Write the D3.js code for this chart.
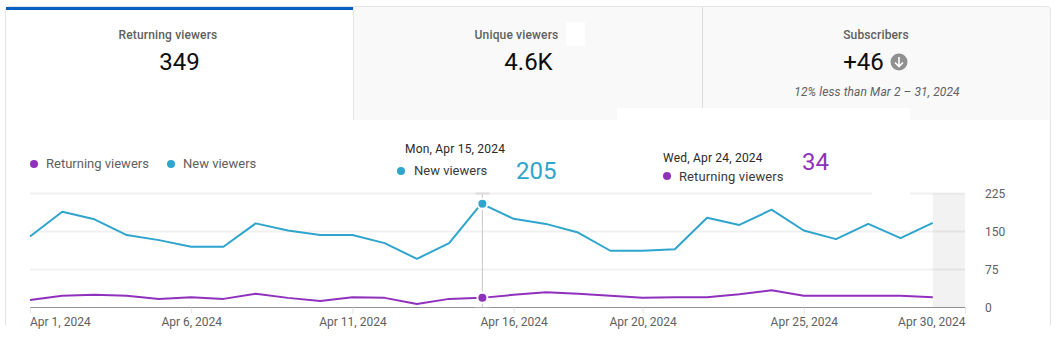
<!DOCTYPE html>
<html>
<head>
<meta charset="utf-8">
<script src="https://cdnjs.cloudflare.com/ajax/libs/d3/7.8.5/d3.min.js"></script>
<style>
    html, body { margin: 0; padding: 0; background: #fff; }
    svg { display: block; font-family: Roboto, sans-serif; }
</style>
</head>
<body>
<svg id="chart" width="1058" height="358"></svg>
<script>
const days = d3.range(1, 31);
const newViewers = [140, 189, 174, 143, 133, 120, 120, 166, 152, 143, 143, 127, 96, 127, 205,
    175, 165, 148, 112, 112, 115, 177, 163, 193, 152, 135, 165, 137, 167];
const returningViewers = [15, 23, 25, 23, 17, 20, 17, 27, 19, 13, 20, 19, 7, 17, 19,
    25, 30, 27, 23, 19, 20, 20, 26, 34, 23, 23, 23, 23, 20];
const yTicks = [0, 75, 150, 225];
const xTickDays = [1, 6, 11, 16, 20, 25, 30];
const tabTitles = ['Returning viewers', 'Unique viewers', 'Subscribers'];
const tabValues = ['349', '4.6K', '+46'];

const purple = '#9031bd';
const blue = '#2fa5cd';
const grey = '#606060';

const svg = d3.select('#chart');

const x = d3.scaleLinear().domain([1, 30]).range([30, 965]);
const y = d3.scaleLinear().domain([0, 225]).range([307.5, 193.5]);

// card and tabs
svg.append('rect')
    .attr('x', 353).attr('y', 7).attr('width', 697).attr('height', 113)
    .attr('fill', '#f9f9f9');
svg.append('path')
    .attr('d', 'M5.5 325V10Q5.5 6.5 9 6.5H1047Q1050.5 6.5 1050.5 10V325')
    .attr('fill', 'none')
    .attr('stroke', '#e5e5e5');
svg.append('rect')
    .attr('x', 6).attr('y', 7).attr('width', 347).attr('height', 3)
    .attr('fill', '#065fc4');
svg.append('line')
    .attr('x1', 353.5).attr('x2', 353.5).attr('y1', 7).attr('y2', 120)
    .attr('stroke', '#e5e5e5');
svg.append('line')
    .attr('x1', 702.5).attr('x2', 702.5).attr('y1', 7).attr('y2', 108)
    .attr('stroke', '#dcdcdc');

const tabCenters = [168, 516.5, 876];
tabTitles.forEach((t, i) => {
    svg.append('text')
        .attr('x', tabCenters[i]).attr('y', 39)
        .attr('text-anchor', 'middle')
        .attr('font-size', 12).attr('font-weight', 500)
        .attr('letter-spacing', '0.15px')
        .attr('fill', grey)
        .text(t);
});
const valueCenters = [179.5, 528.5, 863.5];
tabValues.forEach((t, i) => {
    svg.append('text')
        .attr('x', valueCenters[i]).attr('y', 70)
        .attr('text-anchor', 'middle')
        .attr('font-size', 24)
        .attr('fill', '#0d0d0d')
        .text(t);
});

// down arrow next to the subscribers number
const arrow = svg.append('g').attr('transform', 'translate(899,62)');
arrow.append('circle').attr('r', 8.5).attr('fill', '#909090');
arrow.append('path')
    .attr('d', 'M0 -5V4M-4 0.5L0 4.5L4 0.5')
    .attr('fill', 'none')
    .attr('stroke', '#fff')
    .attr('stroke-width', 1.6);

svg.append('text')
    .attr('x', 877).attr('y', 96)
    .attr('text-anchor', 'middle')
    .attr('font-size', 12).attr('font-style', 'italic')
    .attr('letter-spacing', '0.1px')
    .attr('fill', grey)
    .text('12% less than Mar 2 – 31, 2024');

// pasted-over patches in the screenshot
svg.append('rect').attr('x', 566).attr('y', 22).attr('width', 19).attr('height', 24).attr('fill', '#fff');
svg.append('rect').attr('x', 617).attr('y', 108).attr('width', 293).attr('height', 12).attr('fill', '#fff');

// partial day band
svg.append('rect')
    .attr('x', x(29)).attr('y', y(225))
    .attr('width', x(30) - x(29)).attr('height', y(0) - y(225))
    .attr('fill', '#f2f2f2');

// gridlines
svg.append('g')
    .selectAll('line')
    .data(yTicks.slice(1))
    .enter().append('line')
        .attr('x1', x(1)).attr('x2', x(30))
        .attr('y1', d => y(d)).attr('y2', d => y(d))
        .attr('stroke', d3.rgb(0, 0, 0, 0.06))
        .attr('stroke-width', 2);

svg.append('rect').attr('x', 872).attr('y', 190).attr('width', 38).attr('height', 6).attr('fill', '#fff');

// axes
const monthLabel = d => `Apr ${d}, 2024`;
const xAxis = svg.append('g')
    .attr('transform', `translate(0,${y(0)})`)
    .call(d3.axisBottom(x).tickValues(xTickDays).tickSize(6).tickPadding(4).tickFormat(monthLabel));
xAxis.select('.domain').attr('stroke', '#909090').attr('d', `M${x(1)} 0H${x(30)}`);
xAxis.selectAll('.tick line').attr('stroke', '#e5e5e5');
xAxis.selectAll('.tick text')
    .attr('font-family', 'Roboto, sans-serif')
    .attr('font-size', 12)
    .attr('fill', grey)
    .attr('text-anchor', d => d === 1 ? 'start' : d === 30 ? 'end' : 'middle')
    .attr('dx', d => d === 1 ? -0.5 : 0);

const yAxis = svg.append('g')
    .attr('transform', 'translate(977,0)')
    .call(d3.axisRight(y).tickValues(yTicks).tickSize(0).tickPadding(8));
yAxis.select('.domain').remove();
yAxis.selectAll('.tick text')
    .attr('font-family', 'Roboto, sans-serif')
    .attr('font-size', 12)
    .attr('fill', grey);

// hover cursor, sits a pixel right of the day position in the screenshot
const hoverX = x(15) + 1;
svg.append('line')
    .attr('x1', hoverX).attr('x2', hoverX)
    .attr('y1', y(225)).attr('y2', y(0))
    .attr('stroke', '#c6c6c6');
svg.append('rect').attr('x', hoverX - 7).attr('y', y(225) - 1).attr('width', 14).attr('height', 2).attr('fill', '#dcdcdc');
svg.append('rect').attr('x', hoverX - 8).attr('y', y(0) - 0.5).attr('width', 16).attr('height', 1).attr('fill', '#aaa');

// lines
const line = d3.line()
    .x((d, i) => x(days[i]))
    .y(d => y(d));

[[newViewers, blue], [returningViewers, purple]].forEach(([values, color]) => {
    svg.append('path')
        .datum(values)
        .attr('d', line)
        .attr('fill', 'none')
        .attr('stroke', color)
        .attr('stroke-width', 2)
        .attr('stroke-linejoin', 'round');
    svg.append('circle')
        .attr('cx', hoverX).attr('cy', y(values[14]))
        .attr('r', 5)
        .attr('fill', color)
        .attr('stroke', '#fff')
        .attr('stroke-width', 2);
});

// legend
function dot(cx, cy, color) {
    svg.append('circle').attr('cx', cx).attr('cy', cy).attr('r', 4).attr('fill', color);
}
function label(tx, ty, text, size, color, spacing) {
    svg.append('text')
        .attr('x', tx).attr('y', ty)
        .attr('font-size', size)
        .attr('letter-spacing', spacing ? spacing + 'px' : null)
        .attr('fill', color)
        .text(text);
}

dot(34, 164, purple);
label(46, 168, 'Returning viewers', 13, grey);
dot(171, 164, blue);
label(183, 168, 'New viewers', 13, grey);

// callouts
label(405, 153, 'Mon, Apr 15, 2024', 12, '#282828', 0.2);
dot(401, 171, blue);
label(414, 175, 'New viewers', 13, '#3a3a3a');
label(516, 179, '205', 24, blue);

label(663, 162, 'Wed, Apr 24, 2024', 12, '#282828', 0.2);
dot(667, 176, purple);
label(679, 181, 'Returning viewers', 13, '#3a3a3a', 0.1);
label(802, 170, '34', 24, purple);
</script>
</body>
</html>
